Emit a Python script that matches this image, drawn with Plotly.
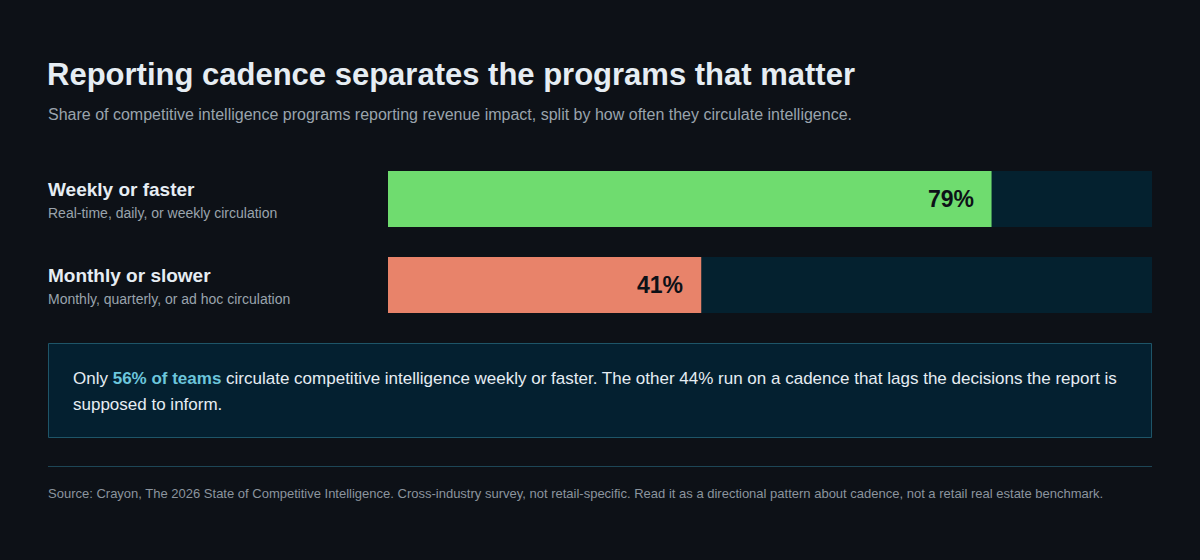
import plotly.graph_objects as go

W, H = 1200, 560
categories = ["Weekly or faster", "Monthly or slower"]
sublabels = ["Real-time, daily, or weekly circulation", "Monthly, quarterly, or ad hoc circulation"]
values = [79, 41]
bar_colors = ["#6fdc6f", "#e8836a"]
track_max = [100, 100]

title = "Reporting cadence separates the programs that matter"
subtitle = "Share of competitive intelligence programs reporting revenue impact, split by how often they circulate intelligence."
callout_line1 = "Only <b><span style='color:#6cc6dc'>56% of teams</span></b> circulate competitive intelligence weekly or faster. The other 44% run on a cadence that lags the decisions the report is"
callout_line2 = "supposed to inform."
source = "Source: Crayon, The 2026 State of Competitive Intelligence. Cross-industry survey, not retail-specific. Read it as a directional pattern about cadence, not a retail real estate benchmark."

BG = "#0d1117"
FONT = "Liberation Sans, Arial, Helvetica, sans-serif"

def py(px):
    return 1 - px / H

def pxx(px):
    return px / W

ypos = list(range(len(categories)))
fig = go.Figure()
fig.add_trace(go.Bar(x=track_max, y=ypos, orientation="h", marker=dict(color="#04212f", line=dict(width=0)),
                     width=56 / 86, hoverinfo="skip", showlegend=False))
fig.add_trace(go.Bar(x=values, y=ypos, orientation="h", marker=dict(color=bar_colors, line=dict(width=0), cornerradius=3),
                     width=56 / 86, hoverinfo="skip", showlegend=False))

ann = []
for i, v in enumerate(values):
    ann.append(dict(x=v, y=i, xref="x", yref="y", text=f"<b>{v}%</b>", showarrow=False,
                    xanchor="right", yanchor="middle", xshift=-16, font=dict(size=23, color="#0d1117", family=FONT)))

label_y = [189, 275]
sub_y = [213, 299]
for i, c in enumerate(categories):
    ann.append(dict(x=pxx(46), y=py(label_y[i]), xref="paper", yref="paper", text=f"<b>{c}</b>", showarrow=False,
                    xanchor="left", yanchor="middle", font=dict(size=19, color="#e6edf3", family=FONT)))
    ann.append(dict(x=pxx(46), y=py(sub_y[i]), xref="paper", yref="paper", text=sublabels[i], showarrow=False,
                    xanchor="left", yanchor="middle", font=dict(size=14, color="#9aa4ad", family=FONT)))

ann.append(dict(x=pxx(45), y=py(75), xref="paper", yref="paper", text=f"<b>{title}</b>", showarrow=False,
                xanchor="left", yanchor="middle", font=dict(size=31, color="#e6edf3", family=FONT)))
ann.append(dict(x=pxx(46), y=py(115), xref="paper", yref="paper", text=subtitle, showarrow=False,
                xanchor="left", yanchor="middle", font=dict(size=16, color="#9aa4ad", family=FONT)))
ann.append(dict(x=pxx(71), y=py(378), xref="paper", yref="paper", text=callout_line1, showarrow=False,
                xanchor="left", yanchor="middle", font=dict(size=17, color="#e6edf3", family=FONT)))
ann.append(dict(x=pxx(71), y=py(404), xref="paper", yref="paper", text=callout_line2, showarrow=False,
                xanchor="left", yanchor="middle", font=dict(size=17, color="#e6edf3", family=FONT)))
ann.append(dict(x=pxx(46), y=py(493), xref="paper", yref="paper", text=source, showarrow=False,
                xanchor="left", yanchor="middle", font=dict(size=13, color="#8b949e", family=FONT)))

shapes = [
    dict(type="rect", xref="paper", yref="paper", x0=pxx(48.5), x1=pxx(1151.5), y0=py(437.5), y1=py(343.5),
         fillcolor="#042030", line=dict(color="#1e5568", width=1), layer="below"),
    dict(type="line", xref="paper", yref="paper", x0=pxx(48), x1=pxx(1152), y0=py(466.5), y1=py(466.5),
         line=dict(color="#1d4656", width=1)),
]

fig.update_layout(
    width=W, height=H, margin=dict(l=0, r=0, t=0, b=0),
    paper_bgcolor=BG, plot_bgcolor="rgba(0,0,0,0)",
    barmode="overlay", showlegend=False,
    xaxis=dict(domain=[pxx(388), pxx(1152)], range=[0, 100], visible=False, fixedrange=True),
    yaxis=dict(domain=[py(313), py(171)], range=[1 + 0.5 * 56 / 86, -0.5 * 56 / 86], visible=False, fixedrange=True),
    annotations=ann, shapes=shapes,
    font=dict(family=FONT),
)
fig.write_html("out.html", config={"displayModeBar": False})
